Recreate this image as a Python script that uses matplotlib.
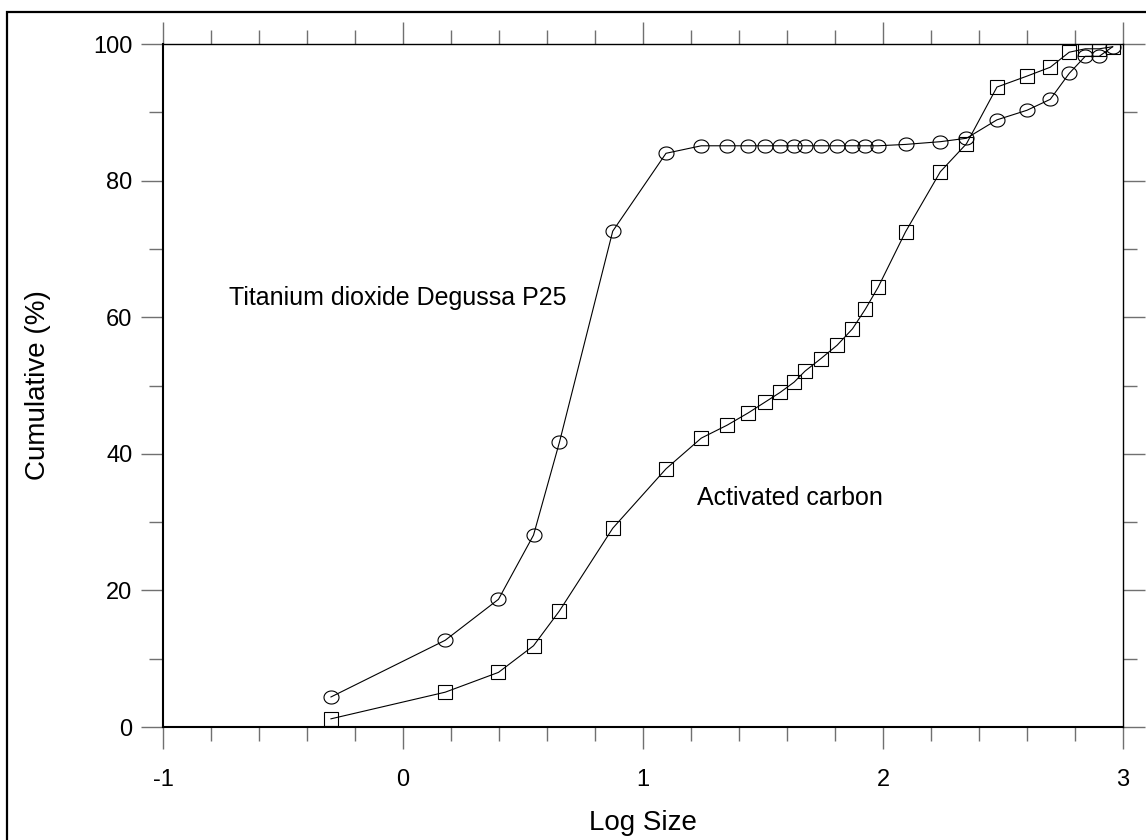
import matplotlib
matplotlib.use("Agg")
import matplotlib.pyplot as plt
from matplotlib.path import Path
from matplotlib.patches import Rectangle
from matplotlib.ticker import MultipleLocator
import numpy as np

plt.rcParams['font.family'] = ['Liberation Sans', 'DejaVu Sans']
plt.rcParams['axes.unicode_minus'] = False

# log size classes (shared by both samples)
log_size = [-0.30, 0.176, 0.398, 0.544, 0.652, 0.874, 1.096, 1.243, 1.351, 1.439,
            1.510, 1.572, 1.630, 1.675, 1.740, 1.809, 1.873, 1.927, 1.980, 2.094,
            2.239, 2.348, 2.475, 2.600, 2.697, 2.776, 2.843, 2.901, 2.957]

# cumulative %
tio2_cum = [4.4, 12.7, 18.7, 28.1, 41.7, 72.6, 84.0, 85.1, 85.1, 85.1,
            85.1, 85.1, 85.1, 85.1, 85.1, 85.1, 85.1, 85.1, 85.1, 85.3,
            85.7, 86.2, 88.9, 90.3, 91.9, 95.7, 98.2, 98.2, 99.6]
carbon_cum = [1.2, 5.1, 8.0, 11.9, 17.0, 29.1, 37.8, 42.3, 44.2, 46.0,
              47.6, 49.0, 50.5, 52.1, 53.9, 55.9, 58.3, 61.2, 64.4, 72.5,
              81.3, 85.4, 93.7, 95.3, 96.6, 98.8, 99.3, 99.3, 99.6]

# slightly flattened circle marker
t = np.linspace(0, 2 * np.pi, 60)
ellipse = Path(np.column_stack([np.cos(t), 0.87 * np.sin(t)]), closed=True)

fig = plt.figure(figsize=(11.46, 8.4), dpi=100)
ax = fig.add_axes([0.1422, 0.1345, 0.8377, 0.8131])

ax.plot(log_size, tio2_cum, color='black', lw=0.8, marker=ellipse, ms=10.8,
        mfc='none', mec='black', mew=0.8)
ax.plot(log_size, carbon_cum, color='black', lw=0.8, marker='s', ms=10.5,
        mfc='none', mec='black', mew=0.8)

ax.text(-0.725, 62.8, 'Titanium dioxide Degussa P25', fontsize=18, va='center')
ax.text(1.225, 33.5, 'Activated carbon', fontsize=18, va='center')

ax.set_xlim(-1, 3)
ax.set_ylim(0, 100)
ax.xaxis.set_major_locator(MultipleLocator(1))
ax.xaxis.set_minor_locator(MultipleLocator(0.2))
ax.yaxis.set_major_locator(MultipleLocator(20))
ax.yaxis.set_minor_locator(MultipleLocator(10))

ax.tick_params(which='both', direction='out', top=True, right=True,
               color='#707070', width=1.0)
ax.tick_params(which='major', length=16, labelsize=17)
ax.tick_params(which='minor', length=10)
ax.tick_params(axis='x', which='major', pad=14)
ax.tick_params(axis='y', which='major', pad=6)

for side in ['left', 'bottom']:
    ax.spines[side].set_linewidth(1.5)
for side in ['top', 'right']:
    ax.spines[side].set_linewidth(1.0)

ax.set_xlabel('Log Size', fontsize=20, labelpad=14)
ax.set_ylabel('Cumulative (%)', fontsize=20, labelpad=30)

# outer frame (only left and top edges fall inside the image)
fig.patches.append(Rectangle((7 / 1146, -0.05), 1.1, 1 - 12 / 840 + 0.05,
                             transform=fig.transFigure, fill=False,
                             edgecolor='black', lw=1.6, clip_on=False))

fig.savefig('out.png', dpi=100)
